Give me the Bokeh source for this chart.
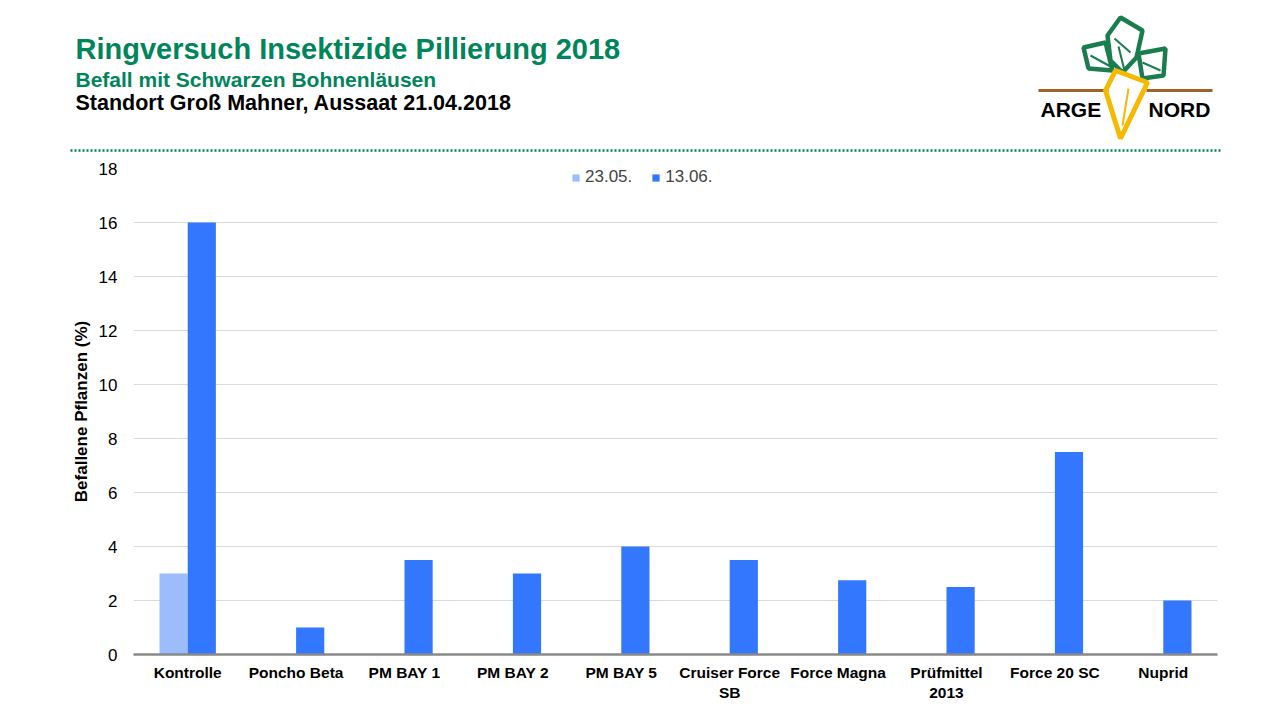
from bokeh.plotting import figure
from bokeh.layouts import column
from bokeh.models import Range1d, FactorRange, ColumnDataSource
from bokeh.transform import dodge
from bokeh.core.properties import value
from bokeh.embed import file_html
from bokeh.resources import INLINE

# data
categories = ["Kontrolle", "Poncho Beta", "PM BAY 1", "PM BAY 2", "PM BAY 5",
              "Cruiser Force\nSB", "Force Magna", "Prüfmittel\n2013",
              "Force 20 SC", "Nuprid"]
befall_2305 = [3, 0, 0, 0, 0, 0, 0, 0, 0, 0]
befall_1306 = [16, 1, 3.5, 3, 4, 3.5, 2.75, 2.5, 7.5, 2]
y_ticks = [0, 2, 4, 6, 8, 10, 12, 14, 16, 18]

FONT = "Liberation Sans"
GREEN = "#00855b"
HEAD_H = 158

# header: titles, logo, dotted rule (data coords = page pixels)
head = figure(width=1280, height=HEAD_H, x_range=Range1d(0, 1280), y_range=Range1d(HEAD_H, 0),
              toolbar_location=None, output_backend="svg", min_border=0)
head.frame_align = False
head.axis.visible = False
head.grid.visible = False
head.outline_line_color = None

for txt, y, size, col in [("Ringversuch Insektizide Pillierung 2018", 48, "29px", GREEN),
                          ("Befall mit Schwarzen Bohnenläusen", 79, "21px", GREEN),
                          ("Standort Groß Mahner, Aussaat 21.04.2018", 102, "21.5px", "black")]:
    head.text(x=[75], y=[y], text=[txt], text_font=value(FONT), text_font_style="bold",
              text_font_size=size, text_color=col, text_baseline="middle")
head.line(x=[70, 1220], y=[150, 150], line_color=GREEN, line_width=2.5, line_dash="2 2")

# logo
leaves_x = [[1083, 1105, 1112, 1088], [1107, 1120, 1142, 1136, 1122, 1110],
            [1138, 1165, 1163, 1142]]
leaves_y = [[47, 42, 70, 68], [35, 17, 30, 57, 72, 60], [53, 48, 75, 78]]
head.patches(xs=leaves_x, ys=leaves_y, fill_color=None, line_color="#1a7d4e", line_width=4.5)
head.multi_line(xs=[[1090, 1110], [1114, 1130], [1142, 1160], [1118, 1124]],
                ys=[[55, 66], [38, 52], [62, 70], [46, 70]],
                line_color="#1a7d4e", line_width=2)
head.multi_line(xs=[[1038, 1108], [1146, 1212]], ys=[[90, 90], [90, 90]],
                line_color="#a0612a", line_width=3)
head.patch(x=[1115, 1147, 1120, 1105], y=[70, 82, 138, 90], fill_color=None,
           line_color="#f6b800", line_width=5)
head.line(x=[1128, 1122], y=[88, 125], line_color="#f6b800", line_width=2)
head.text(x=[1040, 1148], y=[109, 109], text=["ARGE", "NORD"], text_font=value(FONT),
          text_font_style="bold", text_font_size="21px", text_color="black",
          text_baseline="middle")

# chart; frame spans x 133..1217, y 168..654 on the page
source = ColumnDataSource(data=dict(cat=categories, a=befall_2305, b=befall_1306))

p = figure(width=1280, height=720 - HEAD_H, x_range=FactorRange(*categories, range_padding=0),
           y_range=Range1d(0, 18), toolbar_location=None, output_backend="svg",
           min_border_left=133, min_border_right=63,
           min_border_top=168 - HEAD_H, min_border_bottom=66)
p.frame_align = False
p.outline_line_color = None

p.vbar(x=dodge("cat", -0.13, range=p.x_range), top="a", width=0.26, source=source,
       color="#9dbcfc", line_color=None, legend_label="23.05.")
p.vbar(x=dodge("cat", 0.13, range=p.x_range), top="b", width=0.26, source=source,
       color="#3377ff", line_color=None, legend_label="13.06.")

p.xgrid.grid_line_color = None
p.ygrid.grid_line_color = "#d9d9d9"
p.yaxis.ticker = y_ticks
p.yaxis.axis_line_color = None
p.yaxis.major_tick_line_color = None
p.yaxis.major_tick_out = 0
p.yaxis.minor_tick_line_color = None
p.yaxis.major_label_text_font = FONT
p.yaxis.major_label_text_font_size = "17px"
p.yaxis.major_label_text_color = "black"
p.yaxis.major_label_standoff = 16
p.yaxis.axis_label = "Befallene Pflanzen (%)"
p.yaxis.axis_label_text_font = FONT
p.yaxis.axis_label_text_font_size = "17px"
p.yaxis.axis_label_text_font_style = "bold"
p.yaxis.axis_label_text_color = "black"
p.yaxis.axis_label_standoff = 5

p.xaxis.axis_line_color = "#898989"
p.xaxis.axis_line_width = 2.5
p.xaxis.major_tick_line_color = None
p.xaxis.major_tick_out = 0
p.xaxis.minor_tick_line_color = None
p.xaxis.major_label_text_font = FONT
p.xaxis.major_label_text_font_size = "15.5px"
p.xaxis.major_label_text_font_style = "bold"
p.xaxis.major_label_text_color = "black"
p.xaxis.major_label_standoff = 9

p.legend.orientation = "horizontal"
p.legend.location = (571 - 133, 654 - 187)
p.legend.border_line_color = None
p.legend.background_fill_alpha = 0
p.legend.label_text_font = FONT
p.legend.label_text_font_size = "17px"
p.legend.glyph_width = 9
p.legend.glyph_height = 9
p.legend.label_height = 18
p.legend.label_standoff = 5
p.legend.spacing = 19
p.legend.padding = 0
p.legend.margin = 0

layout = column(head, p, spacing=0)
open("out.html", "w").write(file_html(layout, INLINE))
